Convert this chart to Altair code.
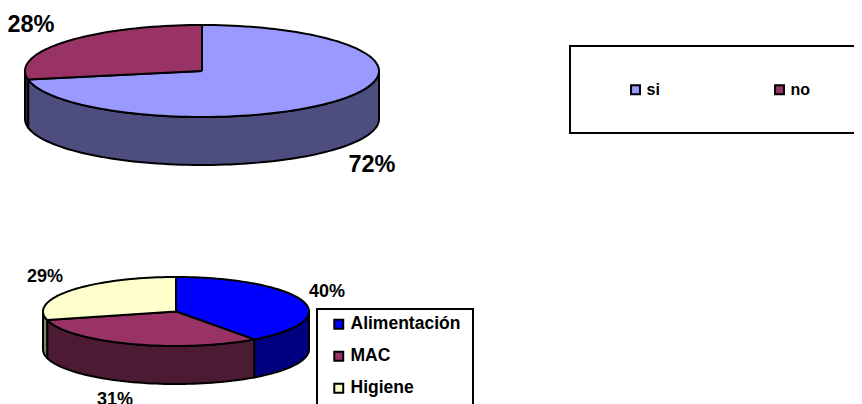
import math
import altair as alt
import pandas as pd

# Values
cats_a = ["si", "no"]
vals_a = [72, 28]
fill_a = ["#9999FF", "#993366"]
side_a = ["#4D4D80", "#4D1A33"]

cats_b = ["Alimentación", "MAC", "Higiene"]
vals_b = [40, 31, 29]
fill_b = ["#0000FF", "#993366", "#FFFFCC"]
side_b = ["#000080", "#4D1A33", "#808066"]

# Pie geometry, in page pixels
PIE_A = dict(cx=202, cy=71, rx=177, ry=46, depth=48)
PIE_B = dict(cx=176, cy=311.5, rx=133, ry=34.5, depth=38)


def pt(p, deg, drop=0):
    t = math.radians(deg)
    return p["cx"] + p["rx"] * math.sin(t), p["cy"] - p["ry"] * math.cos(t) + drop


def sweep(a, b):
    n = max(2, int(abs(b - a) / 2) + 1)
    return [a + (b - a) * i / (n - 1) for i in range(n)]


def build(p, cats, vals, sides):
    tops, walls = [], []
    total = sum(vals)
    start = 0.0
    for c, v, s in zip(cats, vals, sides):
        end = start + 360.0 * v / total
        poly = [(p["cx"], p["cy"])] + [pt(p, d) for d in sweep(start, end)] + [(p["cx"], p["cy"])]
        for i, (x, y) in enumerate(poly):
            tops.append(dict(cat=c, i=i, x=x, y=y))
        lo, hi = max(start, 90.0), min(end, 270.0)
        if lo < hi:
            arc = sweep(lo, hi)
            wall = [pt(p, d) for d in arc] + [pt(p, d, p["depth"]) for d in reversed(arc)]
            wall.append(wall[0])
            for i, (x, y) in enumerate(wall):
                walls.append(dict(cat=c, i=i, x=x, y=y, col=s))
        start = end
    return pd.DataFrame(tops), pd.DataFrame(walls)


tops_a, walls_a = build(PIE_A, cats_a, vals_a, side_a)
tops_b, walls_b = build(PIE_B, cats_b, vals_b, side_b)

X = alt.X("x:Q", axis=None, scale=alt.Scale(domain=[8, 854], nice=False, zero=False))
Y = alt.Y("y:Q", axis=None, scale=alt.Scale(domain=[404, 8], nice=False, zero=False))
line = dict(stroke="#000000", strokeWidth=2, strokeJoin="round")


def wall_layer(df):
    return alt.Chart(df).mark_line(**line).encode(
        x=X, y=Y, order="i:Q", detail="cat:N",
        fill=alt.Fill("col:N", scale=None, legend=None),
    )


def top_layer(df, cats, fills, legend):
    return alt.Chart(df).mark_line(**line).encode(
        x=X, y=Y, order="i:Q", detail="cat:N",
        fill=alt.Fill("cat:N", scale=alt.Scale(domain=cats, range=fills), legend=legend),
    )


common = dict(
    title=None, orient="none", symbolType="square", symbolStrokeColor="#000000",
    symbolStrokeWidth=2, labelFont="Liberation Sans", labelFontWeight="bold",
    labelColor="#000000",
)
legend_a = alt.Legend(
    **common, columns=2, legendX=619.5, legendY=73.5, symbolSize=80, labelFontSize=16,
    columnPadding=110, labelOffset=3,
)
legend_b = alt.Legend(
    **common, columns=1, legendX=322, legendY=307.5, symbolSize=80, labelFontSize=17.5,
    rowPadding=13, labelOffset=3,
)

boxes = pd.DataFrame(dict(x=[570, 317], x2=[900, 473], y=[46, 309], y2=[133, 430]))
box_layer = alt.Chart(boxes).mark_rect(fill="#FFFFFF", stroke="#000000", strokeWidth=2).encode(
    x=X, x2="x2:Q", y=Y, y2="y2:Q"
)

labels = pd.DataFrame(dict(
    text=["28%", "72%", "29%", "40%", "31%"],
    x=[31, 372, 45, 327, 115],
    y=[25, 165, 277, 292, 400],
    size=[23.5, 23.5, 18, 18, 18],
))
label_layer = alt.Chart(labels).mark_text(
    font="Liberation Sans", fontWeight="bold", color="#000000", align="center", baseline="middle"
).encode(x=X, y=Y, text="text:N", size=alt.Size("size:Q", scale=None, legend=None))

chart = alt.layer(
    box_layer,
    wall_layer(walls_a),
    wall_layer(walls_b),
    top_layer(tops_a, cats_a, fill_a, legend_a),
    top_layer(tops_b, cats_b, fill_b, legend_b),
    label_layer,
).resolve_scale(fill="independent").properties(
    width=846, height=396, padding=0, autosize=alt.AutoSizeParams(type="none"),
    background="#FFFFFF",
).configure_view(stroke=None)

chart.save("out.html", embed_options={"renderer": "svg", "actions": False})
